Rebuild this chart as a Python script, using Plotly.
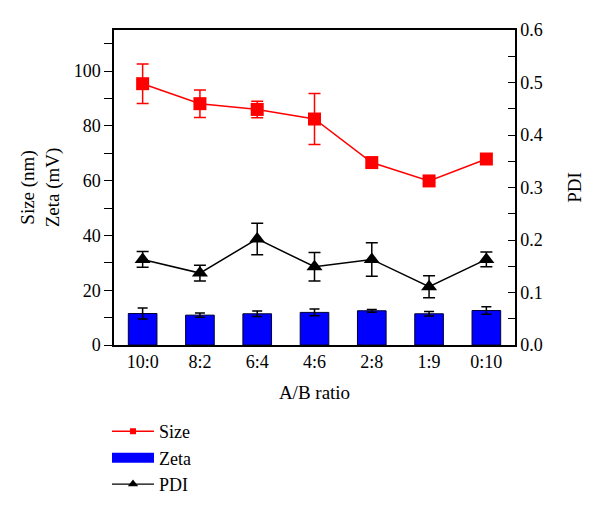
import plotly.graph_objects as go

categories = ["10:0", "8:2", "6:4", "4:6", "2:8", "1:9", "0:10"]
size_vals = [95.4, 88.1, 86.0, 82.5, 66.6, 59.9, 67.9]
size_err = [7.2, 5.0, 3.0, 9.3, 1.5, 0.6, 1.6]
zeta_vals = [11.5, 10.9, 11.4, 11.9, 12.5, 11.4, 12.6]
zeta_err = [2.0, 0.8, 1.0, 1.2, 0.5, 0.8, 1.4]
pdi_vals = [0.163, 0.137, 0.202, 0.149, 0.163, 0.111, 0.163]
pdi_err = [0.015, 0.015, 0.03, 0.027, 0.032, 0.021, 0.014]

FONT = "Liberation Serif, Times New Roman, serif"
TF = dict(family=FONT, size=18, color="black")
TT = dict(family=FONT, size=19, color="black")
LF = dict(family=FONT, size=18, color="black")

fig = go.Figure()
fig.add_trace(go.Scatter(
    x=categories, y=size_vals, name="Size", mode="lines+markers", showlegend=False,
    line=dict(color="#ff0000", width=1.5),
    marker=dict(symbol="square", size=13, color="#ff0000"),
    error_y=dict(type="data", array=size_err, color="#ff0000", thickness=1.5, width=6),
))
fig.add_trace(go.Bar(
    x=categories, y=zeta_vals, name="Zeta", width=0.5, showlegend=False,
    marker=dict(color="#0000ff", line=dict(color="#000033", width=1)),
    error_y=dict(type="data", array=zeta_err, color="#000000", thickness=1.5, width=5),
))
fig.add_trace(go.Scatter(
    x=categories, y=pdi_vals, name="PDI", mode="lines+markers", yaxis="y2", showlegend=False,
    line=dict(color="#000000", width=1.5),
    marker=dict(symbol="triangle-up", size=14, color="#000000"),
    error_y=dict(type="data", array=pdi_err, color="#000000", thickness=1.5, width=6),
))
# legend entries
fig.add_trace(go.Scatter(x=[None], y=[None], name="Size", mode="lines+markers",
                         line=dict(color="#ff0000", width=1.3),
                         marker=dict(symbol="square", size=6, color="#ff0000")))
fig.add_trace(go.Scatter(x=[None], y=[None], name="Zeta", mode="lines",
                         line=dict(color="#0000ff", width=11)))
fig.add_trace(go.Scatter(x=[None], y=[None], name="PDI", mode="lines+markers",
                         line=dict(color="#000000", width=1.3),
                         marker=dict(symbol="triangle-up", size=9, color="#000000")))

fig.update_layout(
    width=600, height=514,
    margin=dict(l=114, r=85, t=30, b=169, autoexpand=False),
    paper_bgcolor="white", plot_bgcolor="white",
    font=TF,
    showlegend=True,
    legend=dict(x=-0.0175, y=-0.216, xanchor="left", yanchor="top",
                font=LF, tracegroupgap=0,
                bgcolor="rgba(0,0,0,0)", itemwidth=42),
    xaxis=dict(
        title=dict(text="A/B ratio", standoff=14, font=TT), tickfont=TF, automargin=False,
        range=[-0.5, 6.5], showline=True, linecolor="black", linewidth=1.5,
        mirror=True, ticks="", showgrid=False, zeroline=False,
    ),
    yaxis=dict(
        title=dict(text="Size (nm)<br>Zeta (mV)", standoff=9, font=TT), tickfont=TF,
        automargin=False,
        range=[0, 115], tickvals=[0, 20, 40, 60, 80, 100],
        showline=True, linecolor="black", linewidth=1.5,
        ticks="outside", ticklen=8, tickwidth=1.2, tickcolor="black",
        minor=dict(dtick=10, ticks="outside", ticklen=8, tickwidth=1.2, tickcolor="black"),
        showgrid=False, zeroline=False,
    ),
    yaxis2=dict(
        title=dict(text="PDI", standoff=26, font=TT), tickfont=TF, automargin=False,
        overlaying="y", side="right", range=[0, 0.6], dtick=0.1, tickformat=".1f",
        showline=True, linecolor="black", linewidth=1.5,
        ticks="inside", ticklen=7, tickwidth=1.2, tickcolor="black",
        minor=dict(dtick=0.05, ticks="inside", ticklen=7, tickwidth=1.2, tickcolor="black"),
        showgrid=False, zeroline=False,
    ),
    barmode="overlay",
)

fig.write_html("out.html", config={"displayModeBar": False},
               post_script="document.body.style.margin='0';")
